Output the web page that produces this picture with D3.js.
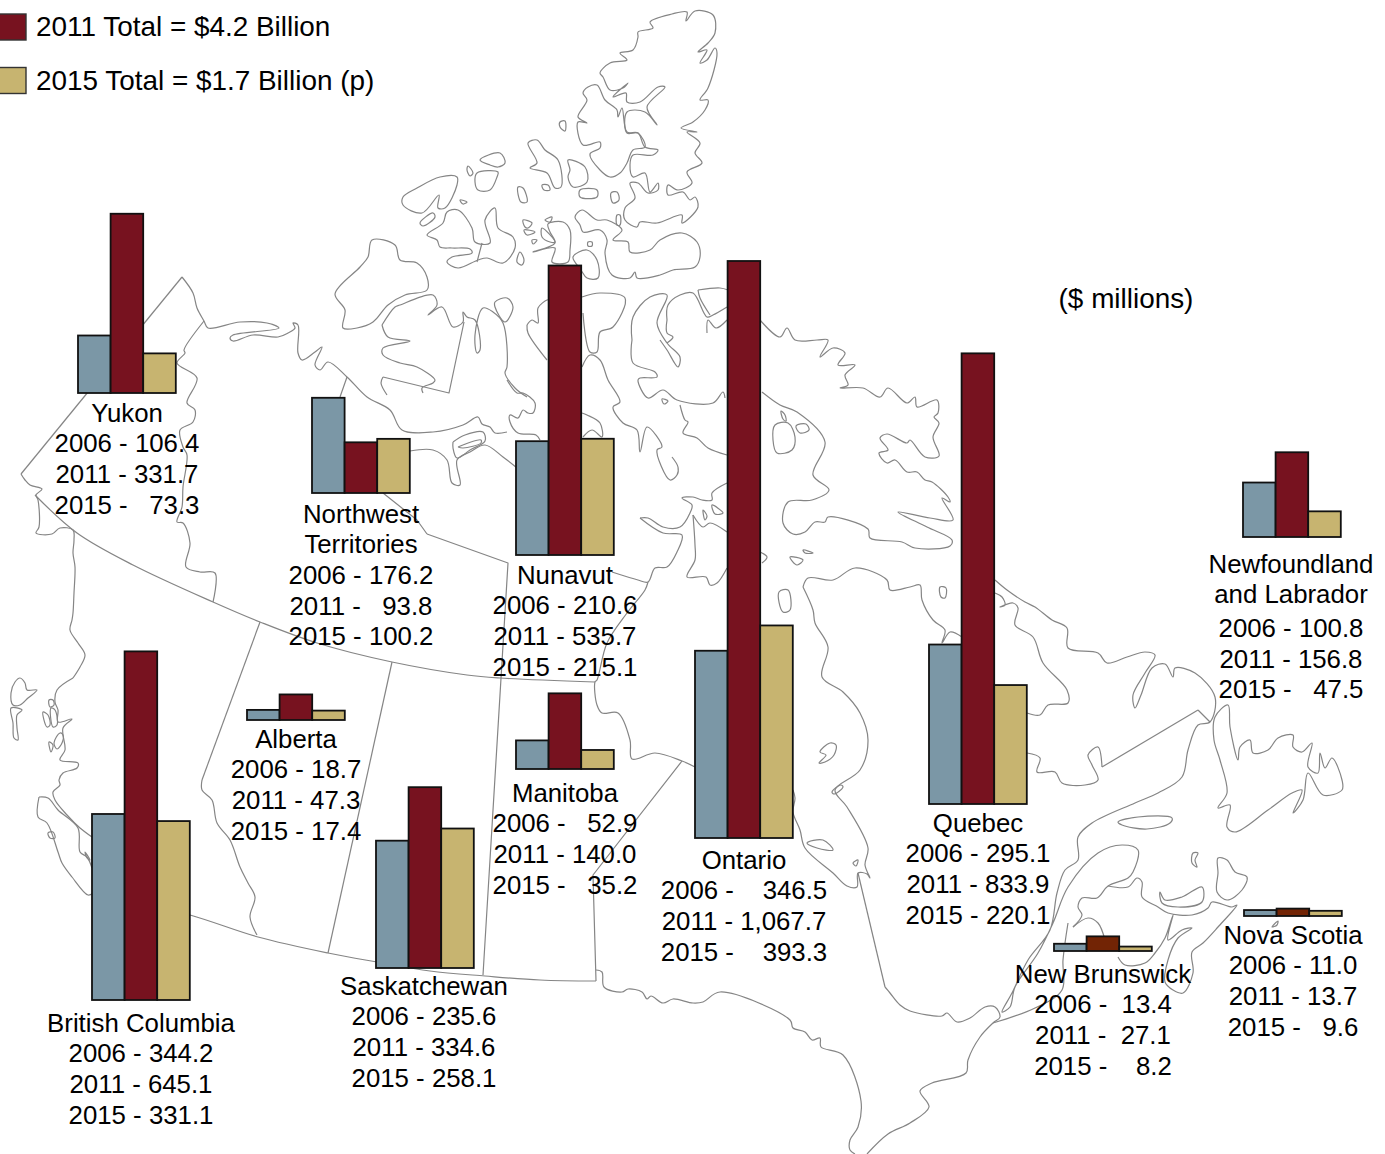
<!DOCTYPE html>
<html>
<head>
<meta charset="utf-8">
<title>Canada by province</title>
<script src="https://cdn.jsdelivr.net/npm/d3@7"></script>
<style>
  body { margin: 0; background: #fff; }
  text { font-family: "Liberation Sans", Arial, sans-serif; font-size: 25.8px; fill: #000; white-space: pre; }
  text.big { font-size: 27.9px; }
</style>
</head>
<body>
<div id="chart"></div>
<script>
// ---- data ----
const provinces = ['Yukon', 'Northwest Territories', 'Nunavut', 'British Columbia', 'Alberta', 'Saskatchewan',
  'Manitoba', 'Ontario', 'Quebec', 'Newfoundland and Labrador', 'New Brunswick', 'Nova Scotia'];
const years = ['2006', '2011', '2015'];
const values2006 = [106.4, 176.2, 210.6, 344.2, 18.7, 235.6, 52.9, 346.5, 295.1, 100.8, 13.4, 11.0];
const values2011 = [331.7, 93.8, 535.7, 645.1, 47.3, 334.6, 140.0, 1067.7, 833.9, 156.8, 27.1, 13.7];
const values2015 = [73.3, 100.2, 215.1, 331.1, 17.4, 258.1, 35.2, 393.3, 220.1, 47.5, 8.2, 9.6];
const legendLabels = ['2011 Total = $4.2 Billion', '2015 Total = $1.7 Billion (p)'];
const unitLabel = '($ millions)';

// ---- layout, kept apart from the values ----
// x = left edge of the group, base = bar baseline, labelX = text centre, labelY = first baseline
const layout = {
  'Yukon': { x: 78, base: 393, labelX: 127, labelY: 422, name: ['Yukon'] },
  'Northwest Territories': { x: 312, base: 493, labelX: 361, labelY: 523, name: ['Northwest', 'Territories'] },
  'Nunavut': { x: 516, base: 555, labelX: 565, labelY: 584, name: ['Nunavut'] },
  'British Columbia': { x: 92, base: 1000, labelX: 141, labelY: 1032, name: ['British Columbia'] },
  'Alberta': { x: 247, base: 720, labelX: 296, labelY: 748, name: ['Alberta'] },
  'Saskatchewan': { x: 376, base: 968, labelX: 424, labelY: 995, name: ['Saskatchewan'] },
  'Manitoba': { x: 516, base: 769, labelX: 565, labelY: 802, name: ['Manitoba'] },
  'Ontario': { x: 695, base: 838, labelX: 744, labelY: 869, name: ['Ontario'] },
  'Quebec': { x: 929, base: 804, labelX: 978, labelY: 832, name: ['Quebec'] },
  'Newfoundland and Labrador': { x: 1243, base: 537, labelX: 1291, labelY: 573, name: ['Newfoundland', 'and Labrador'], valueGap: 3 },
  'New Brunswick': { x: 1054, base: 951, labelX: 1103, labelY: 983, name: ['New Brunswick'], extraPad: 1 },
  'Nova Scotia': { x: 1244, base: 916, labelX: 1293, labelY: 944, name: ['Nova Scotia'] }
};
const colors = { '2006': '#7b97a6', '2011': '#77121f', '2015': '#c7b470' };
const atlanticColor = '#722405';   // 2011 bar of the two small maritime groups
const lineGap = 30.7;

// ---- base map (page pixels) ----
const coastLines = [
  // Yukon / Arctic mainland coast
  [[182,277],[193,293],[197,308],[204,321],[208,328],[240,322],[267,323],[279,328],[233,335],[230,338],[233,341],[253,335],[278,337],[288,333],[295,328],[293,323],[298,325],[298,353],[302,360],[315,352],[322,347],[315,365],[320,370],[328,362],[347,377],[367,397],[390,410],[402,430],[433,432],[463,425],[478,417],[482,424],[490,427],[495,433],[507,432]],
  [[410,451],[433,450],[447,460],[452,483],[460,485],[457,460],[470,452],[485,445],[503,457],[517,468]],
  [[453,442],[465,435],[483,432],[485,441],[470,450],[457,458],[453,448],[453,442]],
  [[458,447],[481,440],[481,443],[463,448],[458,447]],
  [[507,380],[517,393],[523,393],[535,403],[533,413],[528,413],[523,410],[518,418],[510,415],[510,422],[518,433],[536,435],[540,440]],
  // Banks / Victoria
  [[382,325],[395,307],[400,305],[433,295],[437,305],[428,315],[442,307],[453,327],[463,322],[463,312],[467,317],[475,320],[480,350],[477,353],[475,335],[483,308],[493,312],[503,323],[507,367],[505,373],[515,388],[527,397]],
  [[382,325],[388,337],[410,341],[383,348],[383,355],[400,363],[417,367],[435,380],[433,383],[422,388],[423,393]],
  [[383,377],[381,383],[387,395]],
  [[527,325],[532,320],[538,323],[538,308],[547,300],[548,300]],
  [[527,325],[528,333],[547,360]],
  [[582,297],[600,293],[625,298],[613,327],[600,332],[597,352],[590,352],[583,313]],
  [[582,367],[590,355],[600,360],[608,380],[620,402],[613,407],[623,423],[637,430],[640,452],[647,427],[662,447],[657,450],[670,480],[677,475],[678,467],[672,457]],
  [[582,413],[587,415],[600,423],[602,437],[592,430],[583,437]],
  [[632,340],[633,317],[650,297],[667,295],[657,323],[667,343],[680,357],[678,367],[667,350],[660,340]],
  [[632,340],[633,363],[655,372],[657,377],[640,378],[638,380],[648,398],[663,390],[677,400],[713,403],[723,392],[725,398]],
  [[667,320],[668,305],[680,295],[693,293],[707,317],[713,315],[727,307]],
  [[667,320],[667,333],[673,337],[667,343]],
  [[707,333],[708,320],[716,328],[727,320]],
  [[698,290],[720,288],[728,290]],
  [[698,290],[700,298],[710,315]],
  [[680,405],[685,420],[688,422],[683,433],[697,438],[708,448],[727,455]],
  // Hudson Bay west coast and Melville peninsula
  [[640,518],[648,518],[663,527],[680,527],[690,513],[692,505],[682,498],[693,497],[702,500],[712,500],[712,493],[727,483]],
  [[640,518],[663,533],[682,535],[677,552],[667,567],[655,568],[648,582],[638,580],[612,572]],
  [[648,582],[645,590],[627,613],[607,643],[597,680],[595,682],[597,705],[602,713],[618,713],[630,740],[632,759],[655,753],[682,761],[695,767]],
  [[693,515],[695,545],[695,560],[687,577],[706,577],[710,585],[717,583],[727,568]],
  [[693,515],[703,527],[710,523],[727,532]],
  [[760,552],[767,557],[762,563]],
  // Baffin
  [[760,320],[780,337],[787,328],[795,340],[817,340],[828,340],[820,357],[833,348],[845,353],[838,365],[855,365],[845,375],[848,385],[840,388],[863,388],[880,397],[888,388],[907,403],[915,397],[917,407],[937,400],[938,413],[934,417],[939,423],[933,437],[939,456],[925,457],[910,440],[907,443],[887,434],[880,438],[888,450],[879,453],[887,463],[895,460],[907,472],[917,472],[925,480],[932,482],[948,497],[950,502],[942,498],[953,520],[930,518],[898,512],[927,527],[952,540],[950,546],[915,548],[902,542],[870,538],[868,529],[828,517],[825,522],[815,522],[805,532],[793,534],[783,523],[788,502],[812,500],[829,490],[813,475],[825,442],[797,412],[780,405],[762,392]],
  // Quebec and Labrador
  [[803,587],[808,578],[833,580],[855,568],[887,580],[890,590],[910,587],[920,585],[922,600],[933,620],[945,630],[942,643],[950,632],[962,637]],
  [[803,587],[813,610],[815,623],[828,647],[822,677],[843,692],[860,713],[868,740],[860,770],[835,790],[847,807],[868,848],[865,865],[870,878],[867,874],[858,873],[857,887],[847,886],[833,873],[805,848],[800,830],[793,812],[795,798],[793,790]],
  [[995,580],[1007,590],[1025,602],[1035,607],[1052,620],[1067,628],[1068,648],[1098,653],[1107,663],[1127,657],[1145,652],[1155,655],[1145,673],[1133,695],[1135,708],[1141,695],[1152,668],[1165,664],[1173,677],[1175,668],[1195,673],[1215,697],[1210,722],[1198,725],[1188,750],[1182,777],[1158,793],[1135,803],[1092,823],[1078,837],[1078,860],[1065,870],[1057,893],[1050,930],[1028,960],[1012,993],[1002,1012],[1010,1007],[1015,987],[1038,953],[1053,923],[1068,887],[1098,853],[1122,845],[1138,850],[1133,872],[1128,878],[1108,886],[1097,898],[1082,898],[1078,907],[1082,915],[1073,927]],
  [[995,593],[1002,597],[1005,605],[1000,607],[1013,603],[1018,608],[1015,625],[1033,637],[1043,663],[1067,690],[1068,703],[1048,705],[1040,715],[1027,713]],
  [[1027,753],[1040,758],[1037,772],[1055,772],[1062,783],[1085,785],[1098,780],[1092,765],[1088,755],[1098,747],[1102,767]],
  [[1073,927],[1088,918],[1098,923],[1105,940]],
  // Maritimes
  [[1108,886],[1128,887],[1137,878],[1142,882],[1142,897],[1158,907],[1168,913],[1192,915],[1208,908],[1212,902],[1232,907],[1237,905],[1218,927],[1203,943],[1192,952],[1193,973],[1183,993],[1173,990],[1165,982],[1168,960],[1178,938],[1192,928],[1182,930],[1168,940],[1173,915],[1165,938],[1155,953],[1145,963],[1125,965],[1118,957]],
  [[1068,923],[1063,960],[1062,990],[1035,1008],[993,1023]],
  // BC coast
  [[73,678],[57,690],[55,702],[58,710],[58,722],[72,719],[63,728],[65,750],[60,760],[78,763],[77,768],[63,773],[59,780],[60,785],[53,792],[55,800],[67,815],[80,828],[92,837]],
  [[39,797],[48,798],[58,810],[78,828],[80,852],[87,857],[92,868]],
  [[39,797],[38,817],[47,823],[58,852],[62,863],[72,877],[88,895],[93,893]]
];
const islandLoops = [
  // Queen Elizabeth islands
  [[600,73],[610,63],[627,60],[620,53],[633,50],[638,37],[638,32],[653,28],[650,22],[672,14],[687,12],[686,21],[695,11],[713,15],[715,33],[708,43],[698,52],[707,50],[700,63],[707,60],[715,48],[717,53],[708,88],[700,100],[708,100],[705,110],[693,122],[681,128],[697,132],[687,132],[700,143],[695,153],[702,163],[687,172],[692,183],[678,190],[668,185],[668,195],[683,192],[690,200],[695,197],[698,207],[682,223],[682,215],[657,223],[640,222],[637,227],[625,220],[625,208],[635,198],[630,183],[638,183],[648,193],[658,190],[658,183],[650,192],[645,173],[633,177],[630,165],[633,155],[653,155],[658,150],[645,147],[638,133],[627,133],[627,112],[645,112],[657,125],[647,107],[665,87],[658,87],[640,102],[627,102],[626,93],[613,97],[628,83],[623,88],[610,90],[603,77]],
  [[588,87],[597,85],[605,100],[617,110],[618,117],[622,108],[627,132],[638,133],[645,147],[633,150],[627,163],[620,173],[610,177],[600,170],[590,154],[600,148],[600,142],[583,145],[578,122],[587,123],[578,117],[587,100],[583,93]],
  [[560,122],[565,121],[565,131],[560,127]],
  [[528,143],[537,140],[545,150],[558,160],[561,187],[555,188],[547,173],[530,168],[537,163]],
  [[568,160],[585,167],[587,182],[573,187],[568,177],[570,170]],
  [[580,190],[597,190],[597,197],[580,197]],
  [[542,185],[548,185],[550,190],[544,190]],
  [[611,193],[617,192],[619,200],[613,203]],
  [[518,187],[523,188],[527,202],[521,202]],
  [[403,197],[417,188],[440,177],[457,177],[457,185],[445,208],[438,208],[439,195],[422,213],[403,205]],
  [[420,223],[433,213],[435,217],[423,226]],
  [[460,200],[467,202],[463,204]],
  [[468,166],[473,173],[470,176],[467,170]],
  [[480,160],[500,153],[505,163],[498,167],[490,165]],
  [[477,173],[498,172],[497,177],[490,190],[478,190],[475,182]],
  [[427,235],[443,223],[447,212],[458,210],[472,228],[475,242],[490,243],[485,220],[495,208],[498,228],[513,237],[515,248],[503,263],[487,258],[478,260],[458,268],[447,262],[452,257],[472,253],[470,249],[452,248],[440,247],[437,240]],
  [[520,252],[524,260],[522,265],[517,262]],
  [[523,220],[532,223],[528,228],[525,227]],
  [[524,230],[535,232],[527,235]],
  [[532,240],[537,240],[533,244]],
  [[545,220],[552,217],[550,222]],
  [[542,228],[555,242],[550,242],[542,237]],
  [[548,224],[563,222],[570,230],[570,250],[568,262],[552,262],[555,248],[533,252],[555,243],[550,232]],
  [[575,217],[582,210],[597,220],[607,220],[622,230],[613,240],[628,242],[630,252],[650,250],[660,240],[682,233],[697,242],[700,257],[695,267],[673,270],[660,275],[637,278],[635,272],[630,278],[612,275],[605,253],[607,240],[600,230],[583,232],[580,225]],
  [[617,215],[620,215],[620,225],[617,225]],
  [[588,242],[592,242],[592,246],[588,246]],
  [[573,257],[587,250],[597,260],[598,278],[587,278],[581,270]],
  // Banks
  [[335,294],[360,267],[368,257],[372,240],[395,245],[400,260],[417,263],[427,277],[427,290],[405,295],[388,305],[373,322],[357,328],[343,328],[345,310]],
  [[495,302],[507,298],[513,307],[505,322],[495,307]],
  // Small Hudson Bay and Baffin islands
  [[775,425],[788,423],[795,437],[792,450],[777,453],[773,440]],
  [[796,426],[806,424],[809,430],[800,433]],
  [[781,411],[785,415],[786,421],[783,419]],
  [[940,587],[946,588],[945,598],[941,597]],
  [[790,557],[803,560],[797,565]],
  [[803,550],[813,553],[805,553]],
  [[779,592],[788,590],[790,610],[783,612]],
  [[703,510],[707,516],[705,520]],
  [[712,505],[723,513],[715,514]],
  [[662,399],[668,401],[664,404]],
  [[807,843],[823,840],[833,850],[817,848]],
  [[832,792],[841,785],[843,787],[834,794]],
  [[853,863],[858,860],[856,866]],
  [[820,752],[830,743],[836,745],[834,755],[825,762],[819,763],[826,755]],
  // Gulf of St Lawrence, Maritimes, Newfoundland
  [[1118,822],[1138,817],[1172,818],[1170,823],[1147,829],[1122,825]],
  [[1160,892],[1165,900],[1182,897],[1202,887],[1202,902],[1178,907],[1162,903]],
  [[1218,858],[1227,860],[1235,872],[1247,877],[1242,890],[1227,900],[1217,892],[1218,873]],
  [[1193,853],[1198,853],[1195,860],[1197,867],[1192,863]],
  [[1272,927],[1278,921],[1277,925]],
  [[1215,717],[1228,705],[1230,727],[1238,760],[1240,747],[1250,740],[1253,753],[1268,750],[1278,738],[1293,735],[1293,747],[1302,752],[1312,743],[1308,767],[1318,773],[1320,753],[1325,768],[1332,758],[1342,780],[1342,790],[1323,795],[1308,773],[1303,800],[1293,813],[1302,790],[1292,793],[1268,810],[1235,832],[1227,827],[1230,805],[1218,808],[1227,793],[1220,760],[1214,740]],
  // BC islands
  [[15,682],[20,678],[25,683],[27,690],[37,690],[28,698],[20,705],[13,705],[11,693]],
  [[11,708],[22,710],[17,715],[17,728],[18,740],[14,738],[13,723]],
  [[49,700],[53,700],[54,705],[50,707]],
  [[43,712],[48,715],[50,725],[47,727]],
  [[51,708],[55,710],[57,725],[53,727]],
  [[60,733],[63,735],[62,743],[57,749],[54,743]],
  [[49,742],[53,745],[51,752]],
  [[48,833],[53,832],[55,838],[50,838]],
  [[85,852],[90,860],[87,858]]
];
const straightBorders = [
  [[182,277],[21,474]],
  [[383,377],[449,393],[464,322]],
  [[482,243],[477,262]],
  [[260,622],[202,780]],
  [[392,662],[328,953]],
  [[427,534],[508,563],[483,975]],
  [[383,493],[417,520],[427,534]],
  [[347,377],[340,397]],
  [[682,761],[593,875],[596,981]],
  [[885,987],[858,873]],
  [[1198,710],[1102,767]],
  [[1198,710],[1210,722]]
];
const curvedBorders = [
  // 60th parallel
  [[35,495],[77,533],[133,565],[213,602],[260,622],[317,643],[392,662],[467,675],[500,678],[595,682]],
  // 49th parallel
  [[100,893],[190,915],[258,937],[328,953],[377,962],[430,971],[485,976],[540,980],[596,981]],
  // Yukon / NWT divide
  [[204,321],[184,350],[185,353],[177,363],[197,378],[187,403],[195,410],[193,422],[180,430],[183,447],[187,455],[183,487],[182,507],[177,522],[183,523],[190,543],[186,567],[200,572],[215,573],[213,602]],
  // Alaska panhandle and BC coast to the 60th
  [[21,474],[25,480],[30,485],[42,489],[36,495],[38,500],[39,527],[36,533],[52,534],[60,528],[73,530],[74,540],[73,553],[75,567],[74,593],[73,613],[72,620],[70,630],[78,643],[85,655],[80,667],[73,678]],
  // Alberta / BC divide
  [[202,780],[202,790],[212,800],[217,823],[230,840],[240,867],[248,883],[255,897],[250,917],[257,935]],
  // Southern Ontario and Quebec
  [[596,970],[602,972],[604,987],[622,992],[628,989],[642,992],[647,999],[651,996],[663,1003],[673,999],[693,1003],[703,1002],[720,992],[790,1020],[793,1028],[805,1032],[812,1040],[820,1038],[821,1047],[843,1055],[861,1101],[858,1127],[850,1140],[850,1150],[855,1154]],
  [[867,1154],[888,1134],[910,1123],[929,1107],[920,1091],[932,1083],[966,1073],[968,1060],[980,1037],[993,1023],[1000,1017],[995,1007],[985,1007],[970,1018],[957,1022],[947,1013],[942,1016],[910,1011],[900,1005],[890,993],[885,987]]
];

// ---- drawing ----
const svg = d3.select('#chart').append('svg')
  .attr('width', 1385).attr('height', 1154)
  .style('display', 'block');

const mapGroup = svg.append('g')
  .attr('fill', 'none')
  .attr('stroke', '#858585')
  .attr('stroke-width', 1.2)
  .attr('stroke-linejoin', 'round');

const lineOf = curve => d3.line().curve(curve);
function drawLines(lines, curve) {
  mapGroup.append('g').selectAll('path').data(lines).join('path').attr('d', lineOf(curve));
}
drawLines(coastLines, d3.curveCatmullRom.alpha(0.5));
drawLines(islandLoops, d3.curveCatmullRomClosed.alpha(0.5));
drawLines(curvedBorders, d3.curveCatmullRom.alpha(0.5));
drawLines(straightBorders, d3.curveLinear);

// Same scale for all groups: the tallest bar (Ontario 2011) is 577px
const yHeight = d3.scaleLinear().domain([0, d3.max(values2011)]).range([0, 577]);
const xBand = d3.scaleBand().domain(years).range([0, 97.8]);

const seriesByYear = { '2006': values2006, '2011': values2011, '2015': values2015 };
const fmt = d3.format(',.1f');

// Widths counted in spaces: a digit is as wide as two spaces
const spaceWidth = s => d3.sum(Array.from(s), c => (c === '.' || c === ',') ? 1 : 2);

const groups = svg.append('g').selectAll('g')
  .data(provinces)
  .join('g');

groups.each(function (name, i) {
  const pos = layout[name];
  const group = d3.select(this);
  const row = years.map(year => ({ year, value: seriesByYear[year][i] }));

  group.selectAll('rect').data(row).join('rect')
    .attr('x', d => pos.x + xBand(d.year))
    .attr('y', d => pos.base - yHeight(d.value))
    .attr('width', xBand.bandwidth())
    .attr('height', d => yHeight(d.value))
    .attr('fill', d => (d.year === '2011' && (name === 'New Brunswick' || name === 'Nova Scotia')) ? atlanticColor : colors[d.year])
    .attr('stroke', '#111')
    .attr('stroke-width', 1.8);

  // Labels pad the figures with spaces so the columns line up
  const maxWidth = d3.max(row, d => spaceWidth(fmt(d.value)));
  const valueLines = row.map(d => {
    const text = fmt(d.value);
    return `${d.year} - ${' '.repeat(maxWidth - spaceWidth(text) + (pos.extraPad || 0))}${text}`;
  });
  const nameCount = pos.name.length;

  group.selectAll('text').data(pos.name.concat(valueLines)).join('text')
    .attr('x', pos.labelX)
    .attr('y', (d, j) => pos.labelY + Math.floor(j * lineGap) + (j >= nameCount ? (pos.valueGap || 0) : 0))
    .attr('text-anchor', 'middle')
    .text(d => d);
});

// Legend
const legendYears = ['2011', '2015'];
const legend = svg.append('g');
legend.selectAll('rect').data(legendYears).join('rect')
  .attr('x', -1).attr('y', (d, i) => 14 + i * 53.5)
  .attr('width', 27).attr('height', 26)
  .attr('fill', d => colors[d])
  .attr('stroke', '#333')
  .attr('stroke-width', 1.4);
legend.selectAll('text').data(legendLabels).join('text')
  .attr('class', 'big')
  .attr('x', 36).attr('y', (d, i) => 36 + i * 53.5)
  .text(d => d);

svg.append('text').attr('class', 'big').attr('x', 1126).attr('y', 308).attr('text-anchor', 'middle').text(unitLabel);
</script>
</body>
</html>
